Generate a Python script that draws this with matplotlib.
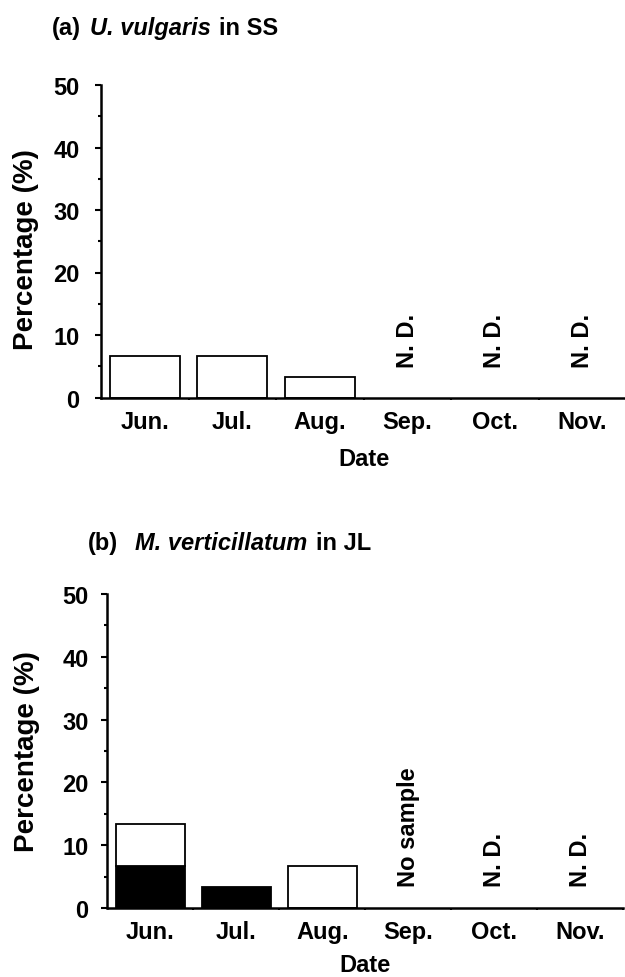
import matplotlib
matplotlib.use("Agg")
import matplotlib.pyplot as plt
from matplotlib.ticker import MultipleLocator, FixedLocator
import numpy as np

months = ["Jun.", "Jul.", "Aug.", "Sep.", "Oct.", "Nov."]
a_open = [6.67, 6.67, 3.33, 0, 0, 0]
b_black = [6.67, 3.33, 0, 0, 0, 0]
b_open = [6.67, 0, 6.67, 0, 0, 0]
a_notes = ["", "", "", "N. D.", "N. D.", "N. D."]
b_notes = ["", "", "", "No sample", "N. D.", "N. D."]

plt.rcParams["font.family"] = ["Liberation Sans", "DejaVu Sans"]
plt.rcParams["font.weight"] = "bold"
FS = 17
YL = 20

fig = plt.figure(figsize=(6.25, 9.78), dpi=100)
W, H = 625.0, 978.0


def make_axes(l, t, r, b):
    return fig.add_axes([l / W, 1 - b / H, (r - l) / W, (b - t) / H])


def style(ax, labelx, labely, notes, note_y, ypad):
    x = np.arange(len(months))
    ax.set_xlim(-0.5, len(months) - 0.5)
    ax.set_ylim(0, 50)
    for s in ["top", "right"]:
        ax.spines[s].set_visible(False)
    for s in ["left", "bottom"]:
        ax.spines[s].set_linewidth(1.8)
    ax.yaxis.set_major_locator(MultipleLocator(10))
    ax.yaxis.set_minor_locator(MultipleLocator(5))
    ax.tick_params(axis="y", which="major", direction="out", length=4.5, width=1.5,
                   pad=ypad, labelsize=FS)
    ax.tick_params(axis="y", which="minor", direction="out", length=2.5, width=1.5)
    ax.set_xticks(x)
    ax.set_xticklabels(months)
    ax.xaxis.set_minor_locator(FixedLocator(np.arange(0.5, len(months), 1.0)))
    ax.tick_params(axis="x", which="major", length=0, pad=9, labelsize=FS)
    ax.tick_params(axis="x", which="minor", direction="out", length=1.5, width=1.5)
    for lab in ax.get_xticklabels() + ax.get_yticklabels():
        lab.set_fontweight("bold")
    for i, n in enumerate(notes):
        if n:
            ax.text(i, note_y, n, rotation=90, ha="center", va="bottom",
                    fontsize=FS, fontweight="bold")
    ax.text(labelx, labely, "Percentage (%)", rotation=90, transform=ax.transAxes,
            ha="center", va="center", fontsize=YL, fontweight="bold")


x = np.arange(len(months))

# Panel (a)
axa = make_axes(101, 86, 626, 398.5)
for i, v in enumerate(a_open):
    if v > 0:
        axa.bar(x[i], v, width=0.8, facecolor="white", edgecolor="black", linewidth=1.3)
style(axa, (26 - 101) / 525, 0.475, a_notes, 4.8, 11)
fig.text(363.5 / W, 1 - 466 / H, "Date", ha="center", va="baseline",
         fontsize=FS, fontweight="bold")

# Panel (b)
axb = make_axes(107.5, 595, 623, 909)
for i in range(len(months)):
    if b_black[i] > 0:
        axb.bar(x[i], b_black[i], width=0.8, facecolor="black", edgecolor="black", linewidth=1.3)
    if b_open[i] > 0:
        axb.bar(x[i], b_open[i], bottom=b_black[i], width=0.8, facecolor="white",
                edgecolor="black", linewidth=1.3)
style(axb, (27 - 107.5) / 515.5, 0.5, b_notes, 3.5, 9)
fig.text(365 / W, 1 - 972 / H, "Date", ha="center", va="baseline",
         fontsize=FS, fontweight="bold")


def title(parts, x0, ybase):
    fig.canvas.draw()
    r = fig.canvas.get_renderer()
    xx = x0
    for txt, style_, gap in parts:
        t = fig.text(xx / W, 1 - ybase / H, txt, fontsize=FS, fontweight="bold",
                     fontstyle=style_, ha="left", va="baseline")
        bb = t.get_window_extent(renderer=r)
        xx = xx + bb.width + gap


title([("(a)", "normal", 9), ("U. vulgaris", "italic", 8), ("in SS", "normal", 0)], 52, 35)
title([("(b)", "normal", 17), ("M. verticillatum", "italic", 9), ("in JL", "normal", 0)], 88, 550)

fig.savefig("out.png", dpi=100)
